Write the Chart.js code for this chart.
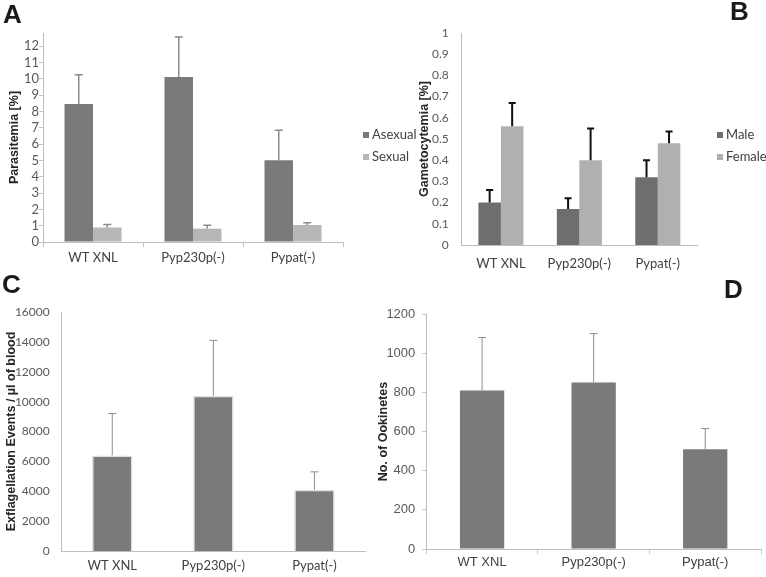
<!DOCTYPE html>
<html>
<head>
<meta charset="utf-8">
<script src="https://cdn.jsdelivr.net/npm/chart.js@4.4.0/dist/chart.umd.min.js"></script>
<style>
  body { margin: 0; background: #fff; width: 766px; height: 577px; position: relative; overflow: hidden; }
  canvas { position: absolute; }
  .tag { position: absolute; font: bold 26px/26px "Liberation Sans", Arial, sans-serif; color: #1a1a1a; }
</style>
</head>
<body>
<canvas id="cA" width="420" height="270" style="left:0;top:0"></canvas>
<canvas id="cB" width="356" height="270" style="left:410px;top:0"></canvas>
<canvas id="cC" width="383" height="307" style="left:0;top:270px"></canvas>
<canvas id="cD" width="396" height="307" style="left:370px;top:270px"></canvas>
<div class="tag" style="left:3px;top:1px">A</div>
<div class="tag" style="left:730px;top:-2px">B</div>
<div class="tag" style="left:2px;top:271px">C</div>
<div class="tag" style="left:724px;top:276px">D</div>
<script>
// groups on every x axis
const groups = ['WT XNL', 'Pyp230p(-)', 'Pypat(-)'];

// A - parasitemia [%]
const asexual = [8.45, 10.1, 5.0];
const asexualSD = [1.8, 2.45, 1.85];
const sexual = [0.89, 0.82, 1.04];
const sexualSD = [0.18, 0.21, 0.14];

// B - gametocytemia [%]
const male = [0.2, 0.17, 0.32];
const maleSD = [0.06, 0.05, 0.08];
const female = [0.56, 0.4, 0.48];
const femaleSD = [0.11, 0.15, 0.055];

// C - exflagellation events / ul
const exflag = [6400, 10400, 4100];
const exflagSD = [2800, 3700, 1200];

// D - ookinetes
const ookinetes = [810, 850, 510];
const ookinetesSD = [270, 250, 105];

const tickFont = { family: 'Lato', size: 13 };
const smallFont = { family: 'Lato', size: 12 };
const narrowFont = { family: '"Liberation Sans Narrow", "Arial Narrow", "Liberation Sans"', size: 13 };
const titleFont = { family: '"Liberation Sans", Arial', size: 12.5, weight: 'bold' };

// error bars (mean + SD, upper only)
const errorBars = {
  id: 'errorBars',
  afterDatasetsDraw(chart, args, o) {
    const ctx = chart.ctx, y = chart.scales.y;
    chart.data.datasets.forEach((ds, i) => {
      if (!ds.sd) return;
      chart.getDatasetMeta(i).data.forEach((bar, j) => {
        const top = y.getPixelForValue(ds.data[j] + ds.sd[j]);
        ctx.save();
        ctx.strokeStyle = o.color;
        ctx.lineWidth = o.width;
        ctx.beginPath();
        ctx.moveTo(bar.x, bar.y);
        ctx.lineTo(bar.x, top);
        ctx.moveTo(bar.x - o.cap, top);
        ctx.lineTo(bar.x + o.cap, top);
        ctx.stroke();
        ctx.restore();
      });
    });
  }
};

// legend drawn at a fixed spot to the right of the plot
const sideLegend = {
  id: 'sideLegend',
  afterDraw(chart, args, o) {
    if (o.x === undefined) return;
    const ctx = chart.ctx;
    ctx.save();
    chart.data.datasets.forEach((ds, i) => {
      const yy = o.y + i * o.gap;
      ctx.fillStyle = ds.backgroundColor;
      ctx.fillRect(o.x, yy - 3, 6, 6);
      ctx.fillStyle = '#404040';
      ctx.font = '13px Lato';
      ctx.textBaseline = 'middle';
      ctx.fillText(ds.label, o.x + 9, yy);
    });
    ctx.restore();
  }
};

Chart.register(errorBars, sideLegend);

function xAxis(h, opts) {
  return {
    grid: { display: opts.ticks, drawOnChartArea: false, tickLength: 5, color: '#c4c4c4', offset: true },
    border: { color: '#bdbdbd' },
    ticks: { color: '#404040', font: opts.font || tickFont, padding: opts.pad, maxRotation: 0 },
    afterFit: s => { s.height = h; }
  };
}

function yAxis(w, opts) {
  return {
    min: 0, max: opts.max,
    grid: { display: opts.ticks, drawOnChartArea: false, tickLength: 4, color: '#c4c4c4' },
    border: { color: '#bdbdbd' },
    ticks: { stepSize: opts.step, autoSkip: false, color: '#595959', font: opts.font || tickFont, padding: opts.pad,
             callback: v => String(+v.toFixed(2)) },
    afterBuildTicks: s => {
      const t = [];
      for (let k = 0; k * opts.step <= opts.max + 1e-9; k++) t.push({ value: +(k * opts.step).toFixed(4) });
      s.ticks = t;
    },
    title: { display: true, text: opts.title, color: '#262626', font: titleFont, padding: { top: opts.tpad, bottom: 0 } },
    afterFit: s => { s.width = w; }
  };
}

const base = { responsive: false, animation: false };

new Chart(document.getElementById('cA'), {
  type: 'bar',
  data: {
    labels: groups,
    datasets: [
      { label: 'Asexual', data: asexual, sd: asexualSD, backgroundColor: '#7a7a7a' },
      { label: 'Sexual', data: sexual, sd: sexualSD, backgroundColor: '#b7b7b7' }
    ]
  },
  options: {
    ...base,
    layout: { padding: { left: 0, right: 77, top: 33, bottom: 0 } },
    datasets: { bar: { categoryPercentage: 0.57, barPercentage: 1 } },
    plugins: {
      legend: { display: false }, tooltip: { enabled: false },
      errorBars: { color: '#8c8c8c', width: 1.5, cap: 4 },
      sideLegend: { x: 363, y: 135, gap: 22 }
    },
    scales: {
      x: xAxis(28, { ticks: true, pad: 3 }),
      y: yAxis(43, { max: 12.8, step: 1, ticks: true, pad: 0, title: 'Parasitemia [%]', tpad: 7 })
    }
  }
});

new Chart(document.getElementById('cB'), {
  type: 'bar',
  data: {
    labels: groups,
    datasets: [
      { label: 'Male', data: male, sd: maleSD, backgroundColor: '#6e6e6e' },
      { label: 'Female', data: female, sd: femaleSD, backgroundColor: '#b0b0b0' }
    ]
  },
  options: {
    ...base,
    layout: { padding: { left: 0, right: 69, top: 33, bottom: 0 } },
    datasets: { bar: { categoryPercentage: 0.574, barPercentage: 1 } },
    plugins: {
      legend: { display: false }, tooltip: { enabled: false },
      errorBars: { color: '#111', width: 2, cap: 3.5 },
      sideLegend: { x: 307, y: 135, gap: 22 }
    },
    scales: {
      x: xAxis(25, { ticks: false, pad: 6 }),
      y: yAxis(51.7, { max: 1, step: 0.1, ticks: false, pad: 9, title: 'Gametocytemia [%]', tpad: 7.5, font: smallFont })
    }
  }
});

new Chart(document.getElementById('cC'), {
  type: 'bar',
  data: {
    labels: groups,
    datasets: [
      { label: 'Exflagellation', data: exflag, sd: exflagSD, backgroundColor: '#7a7a7a',
        borderColor: '#dedede', borderWidth: 1.5 }
    ]
  },
  options: {
    ...base,
    layout: { padding: { left: 0, right: 18, top: 42, bottom: 0 } },
    datasets: { bar: { categoryPercentage: 0.4, barPercentage: 1 } },
    plugins: {
      legend: { display: false }, tooltip: { enabled: false },
      errorBars: { color: '#8c8c8c', width: 1, cap: 4 }
    },
    scales: {
      x: xAxis(26, { ticks: false, pad: 2 }),
      y: yAxis(61.7, { max: 16000, step: 2000, ticks: false, pad: 8, title: 'Exflagellation Events / µl of blood', tpad: 4.5, font: smallFont })
    }
  }
});

new Chart(document.getElementById('cD'), {
  type: 'bar',
  data: {
    labels: groups,
    datasets: [
      { label: 'Ookinetes', data: ookinetes, sd: ookinetesSD, backgroundColor: '#7a7a7a' }
    ]
  },
  options: {
    ...base,
    layout: { padding: { left: 0, right: 5, top: 44, bottom: 0 } },
    datasets: { bar: { categoryPercentage: 0.397, barPercentage: 1 } },
    plugins: {
      legend: { display: false }, tooltip: { enabled: false },
      errorBars: { color: '#8c8c8c', width: 1, cap: 4 }
    },
    scales: {
      x: xAxis(28, { ticks: true, pad: 1, font: narrowFont }),
      y: yAxis(56.3, { max: 1200, step: 200, ticks: true, pad: 7, title: 'No. of Ookinetes', tpad: 6.5, font: narrowFont })
    }
  }
});
</script>
</body>
</html>
